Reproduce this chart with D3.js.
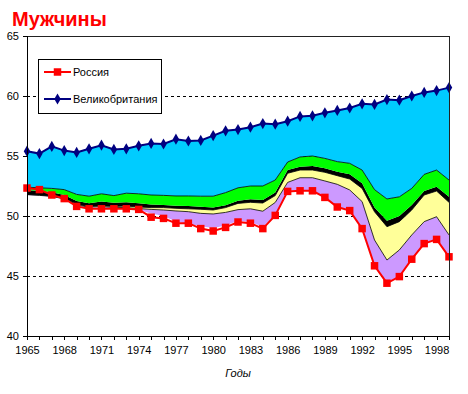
<!DOCTYPE html>
<html>
<head>
<meta charset="utf-8">
<script src="https://cdn.jsdelivr.net/npm/d3@7"></script>
<style>
  body { margin: 0; background: #fff; }
  text { font-family: Arial, "Liberation Sans", sans-serif; }
</style>
</head>
<body>
<div id="chart"></div>
<script>
// data
var years = d3.range(1965, 2000);

var russia = [52.33, 52.2, 51.75, 51.45, 50.8, 50.6, 50.6, 50.6, 50.6, 50.55, 49.9, 49.8, 49.4, 49.4, 48.95, 48.75, 49.05,
  49.5, 49.4, 48.95, 50.05, 52.05, 52.1, 52.1, 51.55, 50.75, 50.45, 48.95, 45.85, 44.4, 44.95, 46.4, 47.7, 48.05, 46.6];

var uk = [55.4, 55.2, 55.8, 55.45, 55.3, 55.6, 55.9, 55.55, 55.6, 55.85, 56.05, 56.0, 56.4, 56.25, 56.3, 56.7, 57.1,
  57.2, 57.4, 57.7, 57.65, 57.9, 58.3, 58.35, 58.6, 58.8, 59.0, 59.35, 59.3, 59.7, 59.65, 60.0, 60.3, 60.45, 60.7];

// band edges (top of white, lilac, yellow, black, green)
var baseEdge = [51.75, 51.7, 51.6, 51.4, 50.85, 50.7, 50.7, 50.65, 50.6, 50.5, 50.2, 50.0, 49.55, 49.35, 49.15, 49.0, 49.2,
  49.6, 49.5, 49.1, 50.1, 52.1, 52.15, 52.15, 51.6, 50.8, 50.5, 49.0, 45.9, 44.5, 45.0, 46.45, 47.75, 48.1, 46.65];
var lilacTop = [51.78, 51.72, 51.63, 51.43, 50.9, 50.75, 50.78, 50.72, 50.7, 50.62, 50.55, 50.5, 50.42, 50.36, 50.22, 50.17, 50.3,
  50.53, 50.6, 50.4, 51.13, 52.8, 53.19, 53.19, 52.92, 52.64, 52.17, 51.2, 48.0, 46.33, 47.17, 48.42, 49.53, 49.94, 48.42];
var yellowTop = [51.8, 51.75, 51.67, 51.47, 50.97, 50.8, 50.86, 50.8, 50.83, 50.75, 50.7, 50.7, 50.64, 50.6, 50.56, 50.5, 50.7,
  51.05, 51.14, 51.08, 51.7, 53.56, 53.83, 53.83, 53.64, 53.36, 53.08, 52.3, 50.35, 49.11, 49.53, 50.5, 51.75, 52.08, 51.14];
var blackTop = [52.15, 52.1, 51.97, 51.75, 51.25, 51.06, 51.2, 51.1, 51.14, 51.06, 50.95, 50.92, 50.85, 50.83, 50.78, 50.7, 50.89,
  51.27, 51.4, 51.33, 51.95, 53.83, 54.11, 54.17, 53.97, 53.69, 53.47, 52.72, 50.7, 49.61, 50.0, 50.92, 52.08, 52.44, 51.6];
var greenTop = [52.4, 52.35, 52.3, 52.2, 51.8, 51.65, 51.85, 51.7, 51.9, 51.85, 51.75, 51.72, 51.67, 51.67, 51.65, 51.65, 51.95,
  52.35, 52.5, 52.5, 53.0, 54.5, 54.92, 55.0, 54.8, 54.53, 54.39, 53.83, 52.2, 51.42, 51.6, 52.3, 53.47, 53.83, 53.0];

var yTicks = [40, 45, 50, 55, 60, 65];
var xTickLabels = [1965, 1968, 1971, 1974, 1977, 1980, 1983, 1986, 1989, 1992, 1995, 1998];

var svgWidth = 468;
var svgHeight = 394;
var margin = { top: 36, left: 27 };
var width = 422;
var height = 300;

var svg = d3.select("#chart")
  .append("svg")
  .attr("width", svgWidth)
  .attr("height", svgHeight);

var chartGroup = svg.append("g")
  .attr("transform", `translate(${margin.left}, ${margin.top})`);

var xScale = d3.scaleLinear().domain([1965, 1999]).range([0, width]);
var yScale = d3.scaleLinear().domain([40, 65]).range([height, 0]);

// gridlines
chartGroup.selectAll(".grid")
  .data(yTicks.filter(d => d > 40 && d < 65))
  .enter()
  .append("line")
  .attr("x1", 0)
  .attr("x2", width)
  .attr("y1", d => yScale(d))
  .attr("y2", d => yScale(d))
  .attr("stroke", "#000")
  .attr("stroke-width", 1)
  .attr("stroke-dasharray", "3,3")
  .attr("shape-rendering", "crispEdges");

// stacked bands
var bands = [
  { lo: baseEdge, hi: lilacTop, color: "#CC99FF" },
  { lo: lilacTop, hi: yellowTop, color: "#FFFF99" },
  { lo: yellowTop, hi: blackTop, color: "#000000" },
  { lo: blackTop, hi: greenTop, color: "#00FF00" },
  { lo: greenTop, hi: uk, color: "#00CCFF" }
];

bands.forEach(function(b) {
  var area = d3.area()
    .x((d, i) => xScale(years[i]))
    .y0((d, i) => yScale(b.lo[i]))
    .y1((d, i) => yScale(b.hi[i]));
  chartGroup.append("path")
    .datum(years)
    .attr("d", area)
    .attr("fill", b.color);
});

// thin borders on band edges
[lilacTop, yellowTop, greenTop].forEach(function(edge) {
  chartGroup.append("path")
    .datum(edge)
    .attr("d", d3.line().x((d, i) => xScale(years[i])).y(d => yScale(d)))
    .attr("fill", "none")
    .attr("stroke", "#000")
    .attr("stroke-width", 0.8);
});

// series lines
var line = d3.line()
  .x((d, i) => xScale(years[i]))
  .y(d => yScale(d));

chartGroup.append("path")
  .datum(russia)
  .attr("d", line)
  .attr("fill", "none")
  .attr("stroke", "#FF0000")
  .attr("stroke-width", 2);

chartGroup.append("path")
  .datum(uk)
  .attr("d", line)
  .attr("fill", "none")
  .attr("stroke", "#000080")
  .attr("stroke-width", 2);

var square = d3.symbol().type(d3.symbolSquare).size(56);
var diamond = d3.symbol().type(d3.symbolDiamond).size(36);

chartGroup.selectAll(".ruMark")
  .data(russia)
  .enter()
  .append("path")
  .attr("d", square)
  .attr("transform", (d, i) => `translate(${xScale(years[i])}, ${yScale(d)})`)
  .attr("fill", "#FF0000");

chartGroup.selectAll(".ukMark")
  .data(uk)
  .enter()
  .append("path")
  .attr("d", diamond)
  .attr("transform", (d, i) => `translate(${xScale(years[i])}, ${yScale(d)})`)
  .attr("fill", "#000080");

// plot border
chartGroup.append("rect")
  .attr("x", 0)
  .attr("y", 0)
  .attr("width", width)
  .attr("height", height)
  .attr("fill", "none")
  .attr("stroke", "#222")
  .attr("stroke-width", 1)
  .attr("shape-rendering", "crispEdges");

// axes
var yAxis = d3.axisLeft(yScale).tickValues(yTicks).tickSize(4).tickPadding(4);
var yG = chartGroup.append("g").call(yAxis);

var xAxis = d3.axisBottom(xScale).tickValues(years).tickSize(4).tickPadding(6)
  .tickFormat(d => xTickLabels.indexOf(d) >= 0 ? d : "");
var xG = chartGroup.append("g")
  .attr("transform", `translate(0, ${height})`)
  .call(xAxis);

[yG, xG].forEach(function(g) {
  g.selectAll("text").attr("font-size", 11).attr("fill", "#000")
    .style("font-family", "Arial, 'Liberation Sans', sans-serif");
  g.selectAll("line").attr("stroke", "#000").attr("shape-rendering", "crispEdges");
  g.select(".domain").attr("stroke", "#000").attr("shape-rendering", "crispEdges");
});

// axis title
svg.append("text")
  .attr("x", margin.left + width / 2)
  .attr("y", 377)
  .attr("text-anchor", "middle")
  .attr("font-size", 11)
  .attr("font-style", "italic")
  .text("Годы");

// chart title
svg.append("text")
  .attr("x", 12)
  .attr("y", 26)
  .attr("font-size", 20)
  .attr("font-weight", "bold")
  .attr("fill", "#FF0000")
  .text("Мужчины");

// legend
var legend = svg.append("g");
legend.append("rect")
  .attr("x", 38.5)
  .attr("y", 59.5)
  .attr("width", 123)
  .attr("height", 54)
  .attr("fill", "#fff")
  .attr("stroke", "#000");

var legendItems = [
  { name: "Россия", color: "#FF0000", sym: square, y: 72 },
  { name: "Великобритания", color: "#000080", sym: diamond, y: 99 }
];

legendItems.forEach(function(it) {
  legend.append("line")
    .attr("x1", 44).attr("x2", 71)
    .attr("y1", it.y).attr("y2", it.y)
    .attr("stroke", it.color)
    .attr("stroke-width", 2);
  legend.append("path")
    .attr("d", it.sym)
    .attr("transform", `translate(57.5, ${it.y})`)
    .attr("fill", it.color);
  legend.append("text")
    .attr("x", 73)
    .attr("y", it.y + 4)
    .attr("font-size", 11)
    .text(it.name);
});
</script>
</body>
</html>
